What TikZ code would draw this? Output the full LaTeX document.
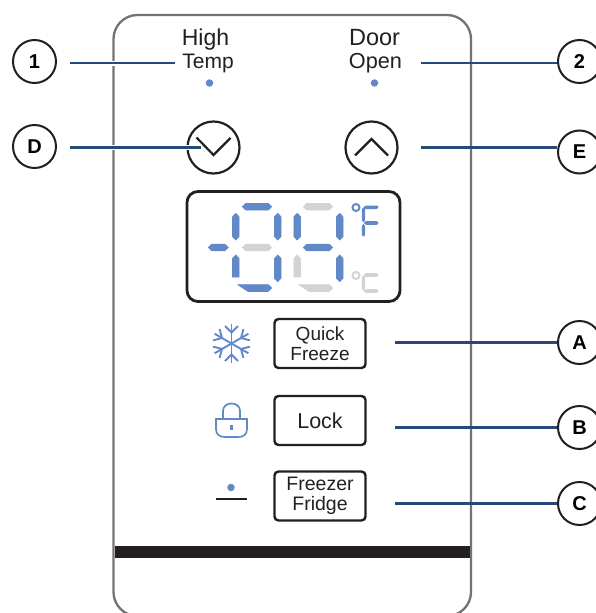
\documentclass[tikz,border=0pt]{standalone}
\usepackage{fontspec}
\setmainfont{Liberation Sans}
\definecolor{segblue}{HTML}{6288C8}
\definecolor{seggrey}{HTML}{D1D3D4}
\definecolor{leader}{HTML}{264A78}
\definecolor{ink}{HTML}{231F20}
\newcommand{\hseg}[4]{\path[fill=#4,draw=#4,line width=.7pt,line join=round] (#1,#3) -- (#1+3.5,#3-3.3) -- (#2-3.5,#3-3.3) -- (#2,#3) -- (#2-3.5,#3+3.3) -- (#1+3.5,#3+3.3) -- cycle;}
\newcommand{\vseg}[4]{\path[fill=#4,draw=#4,line width=.7pt,line join=round] (#1,#2) -- (#1-3.3,#2+3.5) -- (#1-3.3,#3-3.5) -- (#1,#3) -- (#1+3.3,#3-3.5) -- (#1+3.3,#2+3.5) -- cycle;}
\tikzset{
  callout/.style={circle,draw=ink,line width=2pt,minimum size=43pt,inner sep=0pt,fill=white,font=\fontsize{20}{20}\selectfont\bfseries,text=black},
  leaderline/.style={draw=leader,line width=2.1pt},
  keybox/.style={draw=ink,line width=2.4pt,rounded corners=4pt,minimum width=91pt,minimum height=49pt,inner sep=0pt,align=center,text=ink,font=\fontsize{19}{20}\selectfont},
  paneltext/.style={inner sep=0pt,align=center,text=ink,font=\fontsize{23}{23}\selectfont},
  led/.style={circle,fill=segblue,minimum size=7.5pt,inner sep=0pt},
  arrowbtn/.style={circle,draw=ink,line width=2.2pt,minimum size=52pt,inner sep=0pt},
}
\begin{document}
\begin{tikzpicture}[x=1pt,y=-1pt]
\useasboundingbox (0,0) rectangle (595,613);
\begin{scope}
\clip (0,0) rectangle (595,613);
\draw[draw=black!55,line width=2.3pt,rounded corners=24pt] (113.5,15) rectangle (471,616);
\fill[ink] (114.5,546) rectangle (470,558);
\end{scope}

% LEDs and titles
\node[paneltext,anchor=base] (high) at (205.5,45.5) {High};
\node[paneltext,anchor=base,font=\fontsize{21}{21}\selectfont] (temp) at (208,68) {Temp};
\node[paneltext,anchor=base,font=\fontsize{23.5}{23.5}\selectfont] (door) at (374.5,45.5) {Door};
\node[paneltext,anchor=base,font=\fontsize{21.7}{21.7}\selectfont] (open) at (375.5,68) {Open};
\node[led] (ledl) at (209.5,83) {};
\node[led] (ledr) at (374.5,83) {};

% arrow buttons
\node[arrowbtn] (down) at (213.5,147.5) {};
\node[arrowbtn] (up) at (371.5,147.5) {};
\draw[ink,line width=2.2pt] (196.5,137.5) -- (213.5,155) -- (230.5,138);
\draw[ink,line width=2.2pt] (355,155.5) -- (371.5,139) -- (388,155.5);

% display
\draw[ink,line width=2.8pt,rounded corners=11pt] (187,191.5) rectangle (400,301.5);
\hseg{242.3}{271.7}{206.7}{segblue}
\vseg{235.8}{213.3}{240}{segblue}
\vseg{277.7}{213.3}{240}{segblue}
\hseg{242.3}{271.7}{247.5}{seggrey}
\hseg{208.3}{228.3}{247.5}{segblue}
\path[fill=segblue,draw=segblue,line width=.7pt,line join=round] (235.8,255) -- (232.5,258.5) -- (232.5,277) -- (239.1,277) -- (239.1,258.5) -- cycle;
\vseg{277.7}{255}{281.7}{segblue}
\path[fill=segblue,draw=segblue,line width=.7pt,line join=round] (237.6,284.6) -- (268.2,284.6) -- (271.7,288) -- (268.2,291.4) -- (248,291.4) -- cycle;
\hseg{303.3}{332.7}{206.7}{seggrey}
\vseg{297.2}{213.3}{240}{segblue}
\vseg{339.7}{213.3}{240}{segblue}
\hseg{303.3}{332.7}{247.5}{segblue}
\path[fill=seggrey,draw=seggrey,line width=.7pt,line join=round] (297.2,255) -- (293.9,258.5) -- (293.9,277) -- (300.5,277) -- (300.5,258.5) -- cycle;
\vseg{339.7}{255}{281.7}{segblue}
\path[fill=seggrey,draw=seggrey,line width=.7pt,line join=round] (298.6,284.6) -- (329.2,284.6) -- (332.7,288) -- (329.2,291.4) -- (309,291.4) -- cycle;
% degree F
\draw[segblue,line width=2pt] (356,207.5) circle (3.5);
\fill[segblue] (363.5,207) -- (366,205.5) -- (377,205.5) -- (378.5,207) -- (377,209) -- (365,209) -- cycle;
\fill[segblue] (363.5,223) -- (366,221.2) -- (377,221.2) -- (378.5,223) -- (377,224.8) -- (366,224.8) -- cycle;
\fill[segblue] (363.5,207.5) -- (365.2,209) -- (365.2,220.5) -- (363.5,222) -- (361.8,220.5) -- (361.8,209) -- cycle;
\fill[segblue] (363.5,224) -- (365.2,226) -- (365.2,235) -- (363.5,236.5) -- (361.8,235) -- (361.8,226) -- cycle;
% degree C
\draw[seggrey,line width=2pt] (356,275.5) circle (3.5);
\fill[seggrey] (363.5,275) -- (366,273.2) -- (377,273.2) -- (378.5,275) -- (377,276.8) -- (365,276.8) -- cycle;
\fill[seggrey] (363.5,291) -- (366,289.2) -- (377,289.2) -- (378.5,291) -- (377,292.8) -- (366,292.8) -- cycle;
\fill[seggrey] (363.5,275.5) -- (365.2,277) -- (365.2,288.5) -- (363.5,291) -- (361.8,288.5) -- (361.8,277) -- cycle;

% keys
\node[keybox] (quick) at (320,343.5) {Quick\\Freeze};
\node[keybox] (lock) at (320,420.5) {\fontsize{21.5}{21.5}\selectfont Lock};
\node[keybox,font=\fontsize{19.5}{20}\selectfont] (freezer) at (320,496) {Freezer\\Fridge};

% snowflake
\begin{scope}[shift={(231.5,343.5)}]
\foreach \a in {90,150,210,270,330,30}{
  \begin{scope}[rotate=\a]
  \draw[segblue,line width=1.9pt] (0,0) -- (19.5,0);
  \draw[segblue,line width=1.9pt] (17.5,-6.5) -- (11,0) -- (17.5,6.5);
  \end{scope}
}
\end{scope}

% padlock
\draw[segblue,line width=1.7pt] (216,419) -- (247,419) -- (247,429) .. controls (247,435) and (243,437) .. (238,437) -- (225,437) .. controls (220,437) and (216,435) .. (216,429) -- cycle;
\draw[segblue,line width=1.7pt] (223,419) -- (223,411) .. controls (223,401) and (240,401) .. (240,411) -- (240,419);
\fill[segblue] (229.8,425) rectangle (233.2,430);

% dot and bar
\node[led] (doticon) at (231,487.5) {};
\draw[ink,line width=1.5pt] (216,499) -- (247,499);

% callouts and leaders
\node[callout] (c1) at (34.5,61.5) {1};
\node[callout] (c2) at (579.5,61.5) {2};
\node[callout] (cD) at (34.5,146.5) {D};
\node[callout] (cE) at (579.5,152) {E};
\node[callout] (cA) at (579.5,342.5) {A};
\node[callout] (cB) at (579.5,427.5) {B};
\node[callout] (cC) at (579.5,503.5) {C};
\coordinate (e1) at (175,63);
\coordinate (e2) at (421,63);
\coordinate (eD) at (201,147.5);
\coordinate (eE) at (421,147.5);
\coordinate (eA) at (395,342.5);
\coordinate (eB) at (395,427.5);
\coordinate (eC) at (395,503.5);
\draw[white,line width=5pt] (69.5,63) -- (e1);
\draw[white,line width=5pt] (69.5,147.5) -- (eD);
\draw[leaderline] (69.5,63) -- (e1);
\draw[leaderline] (69.5,147.5) -- (eD);
\draw[leaderline] (e2) -- (557,63);
\draw[leaderline] (eE) -- (557,147.5);
\draw[leaderline] (eA) -- (cA);
\draw[leaderline] (eB) -- (cB);
\draw[leaderline] (eC) -- (cC);
\end{tikzpicture}
\end{document}
